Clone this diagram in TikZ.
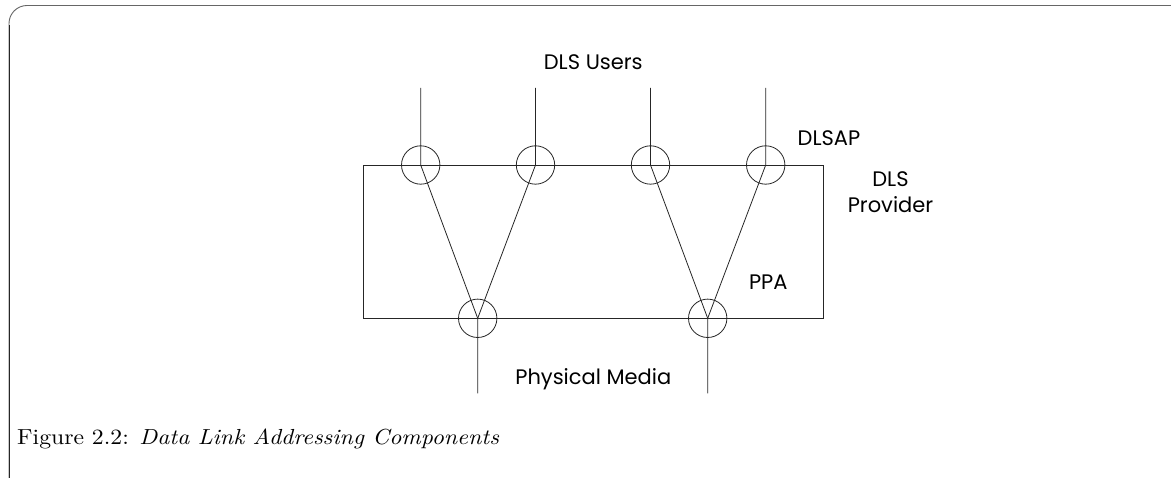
\documentclass[tikz,border=0pt]{standalone}
\usepackage{fontspec}
\usepackage{graphicx}
\newfontfamily\agfam{Poppins}
\newcommand{\agfont}{\agfam\fontsize{21}{26}\selectfont}
\begin{document}
\begin{tikzpicture}[x=1pt,y=-1pt,
  wire/.style={line width=0.8pt,black!85},
  sap/.style={circle,draw,line width=0.8pt,black!85,minimum size=38.4pt,inner sep=0pt},
  lbl/.style={inner sep=0pt,anchor=base,font=\agfont,align=center},
  frame/.style={line width=0.9pt,black!60,rounded corners=18pt}]
\useasboundingbox (0,0) rectangle (1171,478);
% outer frame
\draw[frame] (9,520) -- (9,5.5) -- (1190,5.5) -- (1190,520);
\draw[line width=0.9pt,black!85] (9,25) -- (9,520);
% provider box
\draw[wire] (363.3,165) rectangle (823,318.3);
% access points
\node[sap] (c1) at (420.7,165) {};
\node[sap] (c2) at (535.5,165) {};
\node[sap] (c3) at (650.5,165) {};
\node[sap] (c4) at (765.7,165) {};
\node[sap] (p1) at (477.7,318.3) {};
\node[sap] (p2) at (707.7,318.3) {};
\coordinate (u1) at (420.7,88);
\coordinate (u2) at (535.5,88);
\coordinate (u3) at (650.5,88);
\coordinate (u4) at (765.7,88);
\coordinate (m1) at (477.7,393.5);
\coordinate (m2) at (707.7,393.5);
\draw[wire] (u1) -- (c1.center) -- (p1.center) -- (m1);
\draw[wire] (u2) -- (c2.center) -- (p1.center);
\draw[wire] (u3) -- (c3.center) -- (p2.center) -- (m2);
\draw[wire] (u4) -- (c4.center) -- (p2.center);
% labels
\node[lbl] (users) at (593.3,70) {DLS Users};
\node[lbl] (dlsap) at (829,145.7) {DLSAP};
\node[lbl,anchor=base] (prov) at (890.5,212.7) {DLS\\Provider};
\node[lbl] (ppa) at (768.3,290) {PPA};
\node[lbl] (media) at (593.3,385) {Physical Media};
% caption
\node[inner sep=0pt,anchor=base west,font=\fontsize{10}{12}\selectfont] (cap) at (17,445)
  {\scalebox{2.37}[2.18]{Figure 2.2: \textit{Data Link Addressing Components}}};
\end{tikzpicture}
\end{document}
